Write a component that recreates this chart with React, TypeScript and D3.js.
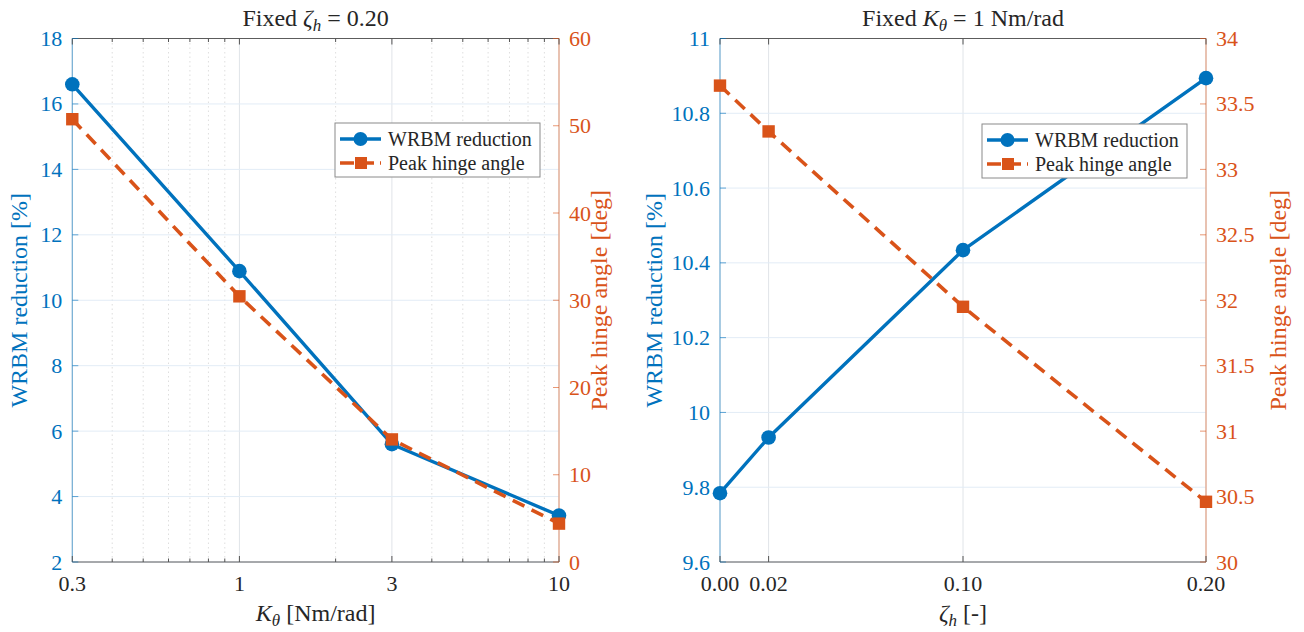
import React from "react";
import * as d3 from "d3";

const kTheta = [0.3, 1, 3, 10];
const wrbmLeft = [16.6, 10.89, 5.6, 3.42];
const hingeLeft = [50.75, 30.45, 14.05, 4.4];

const zetaH = [0, 0.02, 0.1, 0.2];
const wrbmRight = [9.784, 9.933, 10.434, 10.894];
const hingeRight = [33.64, 33.29, 31.95, 30.46];

const leftXTicks = [0.3, 1, 3, 10];
const leftXTickLabels = ["0.3", "1", "3", "10"];
const leftXMinor = [0.4, 0.5, 0.6, 0.7, 0.8, 0.9, 2, 4, 5, 6, 7, 8, 9];
const leftYTicks = [2, 4, 6, 8, 10, 12, 14, 16, 18];
const leftY2Ticks = [0, 10, 20, 30, 40, 50, 60];

const rightXTicks = [0, 0.02, 0.1, 0.2];
const rightXTickLabels = ["0.00", "0.02", "0.10", "0.20"];
const rightYTicks = [9.6, 9.8, 10, 10.2, 10.4, 10.6, 10.8, 11];
const rightYTickLabels = ["9.6", "9.8", "10", "10.2", "10.4", "10.6", "10.8", "11"];
const rightY2Ticks = [30, 30.5, 31, 31.5, 32, 32.5, 33, 33.5, 34];

const BLUE = "#0072BD";
const ORANGE = "#D95319";
const FONT = "Liberation Serif, Times New Roman, DejaVu Serif, serif";

type PanelProps = {
  x0: number;
  x1: number;
  xScale: any;
  xTicks: number[];
  xTickLabels: string[];
  xMinor: number[];
  yDomain: [number, number];
  y2Domain: [number, number];
  yTicks: number[];
  yTickLabels: string[];
  y2Ticks: number[];
  xs: number[];
  ys: number[];
  y2s: number[];
  title: React.ReactNode;
  xLabel: React.ReactNode;
  legendX: number;
  legendY: number;
  yLabelX: number;
  y2LabelX: number;
};

const TOP = 38.5;
const BOTTOM = 562;

function Panel(p: PanelProps) {
  const y = d3.scaleLinear().domain(p.yDomain).range([BOTTOM, TOP]);
  const y2 = d3.scaleLinear().domain(p.y2Domain).range([BOTTOM, TOP]);
  const x = p.xScale;
  const line1 = d3.line<number>().x((_, i) => x(p.xs[i])).y((v) => y(v));
  const line2 = d3.line<number>().x((_, i) => x(p.xs[i])).y((v) => y2(v));
  const cx = (p.x0 + p.x1) / 2;
  const tl = 6;
  const FS = 22;
  return (
    <g style={{ fontFamily: FONT }}>
      {p.xMinor.map((t) => (
        <line key={"mg" + t} x1={x(t)} x2={x(t)} y1={TOP} y2={BOTTOM} stroke="#d6d6d6" strokeWidth={0.8} strokeDasharray="1.5,3" />
      ))}
      {p.xTicks.map((t) => (
        <line key={"g" + t} x1={x(t)} x2={x(t)} y1={TOP} y2={BOTTOM} stroke="#e0e4e8" strokeWidth={1} />
      ))}
      {p.yTicks.map((t) => (
        <line key={"gy" + t} x1={p.x0} x2={p.x1} y1={y(t)} y2={y(t)} stroke="#e2ecf6" strokeWidth={1} />
      ))}
      <line x1={p.x0} x2={p.x1} y1={BOTTOM} y2={BOTTOM} stroke="#5c5c5c" strokeWidth={1} />
      <line x1={p.x0} x2={p.x1} y1={TOP} y2={TOP} stroke="#5c5c5c" strokeWidth={1} />
      <line x1={p.x0} x2={p.x0} y1={TOP} y2={BOTTOM} stroke={BLUE} strokeOpacity={0.5} strokeWidth={1.2} />
      <line x1={p.x1} x2={p.x1} y1={TOP} y2={BOTTOM} stroke={ORANGE} strokeOpacity={0.5} strokeWidth={1.2} />
      {p.xTicks.map((t, i) => (
        <g key={"xt" + t}>
          <line x1={x(t)} x2={x(t)} y1={BOTTOM} y2={BOTTOM - tl} stroke="#555" />
          <line x1={x(t)} x2={x(t)} y1={TOP} y2={TOP + tl} stroke="#555" />
          <text x={x(t)} y={BOTTOM + 28.5} fontSize={FS} textAnchor="middle" fill="#262626">
            {p.xTickLabels[i]}
          </text>
        </g>
      ))}
      {p.xMinor.map((t) => (
        <g key={"xm" + t}>
          <line x1={x(t)} x2={x(t)} y1={BOTTOM} y2={BOTTOM - 3.5} stroke="#555" />
          <line x1={x(t)} x2={x(t)} y1={TOP} y2={TOP + 3.5} stroke="#555" />
        </g>
      ))}
      {p.yTicks.map((t, i) => (
        <g key={"yt" + t}>
          <line x1={p.x0} x2={p.x0 + tl} y1={y(t)} y2={y(t)} stroke={BLUE} strokeOpacity={0.6} />
          <text x={p.x0 - 10} y={y(t) + 7.5} fontSize={FS} textAnchor="end" fill={BLUE}>
            {p.yTickLabels[i]}
          </text>
        </g>
      ))}
      {p.y2Ticks.map((t) => (
        <g key={"y2t" + t}>
          <line x1={p.x1} x2={p.x1 - tl} y1={y2(t)} y2={y2(t)} stroke={ORANGE} strokeOpacity={0.6} />
          <text x={p.x1 + 10} y={y2(t) + 7.5} fontSize={FS} textAnchor="start" fill={ORANGE}>
            {String(t)}
          </text>
        </g>
      ))}
      <path d={line1(p.ys) || ""} fill="none" stroke={BLUE} strokeWidth={3.4} strokeLinejoin="round" />
      {p.ys.map((v, i) => (
        <circle key={"c" + i} cx={x(p.xs[i])} cy={y(v)} r={7.3} fill={BLUE} />
      ))}
      <path d={line2(p.y2s) || ""} fill="none" stroke={ORANGE} strokeWidth={3.6} strokeDasharray="13,8" />
      {p.y2s.map((v, i) => (
        <rect key={"s" + i} x={x(p.xs[i]) - 6.2} y={y2(v) - 6.2} width={12.4} height={12.4} fill={ORANGE} />
      ))}
      <text x={cx} y={26} fontSize={24} textAnchor="middle" fill="#262626">{p.title}</text>
      <text x={cx} y={621} fontSize={24} textAnchor="middle" fill="#262626">{p.xLabel}</text>
      <text transform={`translate(${p.yLabelX},${(TOP + BOTTOM) / 2}) rotate(-90)`} fontSize={24} textAnchor="middle" fill={BLUE}>
        WRBM reduction [%]
      </text>
      <text transform={`translate(${p.y2LabelX},${(TOP + BOTTOM) / 2}) rotate(-90)`} fontSize={24} textAnchor="middle" fill={ORANGE}>
        Peak hinge angle [deg]
      </text>
      <g transform={`translate(${p.legendX},${p.legendY})`}>
        <rect x={0} y={0} width={205} height={54} fill="#fff" stroke="#8a8a8a" strokeWidth={1} />
        <line x1={5} x2={46} y1={16} y2={16} stroke={BLUE} strokeWidth={3.4} />
        <circle cx={25.5} cy={16} r={7} fill={BLUE} />
        <text x={53} y={22.5} fontSize={20} fill="#262626">WRBM reduction</text>
        <line x1={5} x2={46} y1={40} y2={40} stroke={ORANGE} strokeWidth={3.6} strokeDasharray="14,6" />
        <rect x={20} y={34} width={12} height={12} fill={ORANGE} />
        <text x={53} y={47} fontSize={20} fill="#262626">Peak hinge angle</text>
      </g>
    </g>
  );
}

export default function App() {
  const xl = d3.scaleLog().domain([0.3, 10]).range([72.3, 559]);
  const xr = d3.scaleLinear().domain([0, 0.2]).range([720, 1206]);
  return (
    <svg width={1304} height={632} style={{ position: "absolute", left: 0, top: 0, background: "#fff" }}>
      <rect width={1304} height={632} fill="#fff" />
      <Panel
        x0={72.3}
        x1={559}
        xScale={xl}
        xTicks={leftXTicks}
        xTickLabels={leftXTickLabels}
        xMinor={leftXMinor}
        yDomain={[2, 18]}
        y2Domain={[0, 60]}
        yTicks={leftYTicks}
        yTickLabels={leftYTicks.map(String)}
        y2Ticks={leftY2Ticks}
        xs={kTheta}
        ys={wrbmLeft}
        y2s={hingeLeft}
        title={
          <>
            Fixed <tspan fontStyle="italic">ζ</tspan>
            <tspan fontStyle="italic" fontSize={17} dy={5}>h</tspan>
            <tspan dy={-5}> = 0.20</tspan>
          </>
        }
        xLabel={
          <>
            <tspan fontStyle="italic">K</tspan>
            <tspan fontStyle="italic" fontSize={17} dy={5}>θ</tspan>
            <tspan dy={-5}> [Nm/rad]</tspan>
          </>
        }
        legendX={335}
        legendY={123}
        yLabelX={27}
        y2LabelX={607}
      />
      <Panel
        x0={720}
        x1={1206}
        xScale={xr}
        xTicks={rightXTicks}
        xTickLabels={rightXTickLabels}
        xMinor={[]}
        yDomain={[9.6, 11]}
        y2Domain={[30, 34]}
        yTicks={rightYTicks}
        yTickLabels={rightYTickLabels}
        y2Ticks={rightY2Ticks}
        xs={zetaH}
        ys={wrbmRight}
        y2s={hingeRight}
        title={
          <>
            Fixed <tspan fontStyle="italic">K</tspan>
            <tspan fontStyle="italic" fontSize={17} dy={5}>θ</tspan>
            <tspan dy={-5}> = 1 Nm/rad</tspan>
          </>
        }
        xLabel={
          <>
            <tspan fontStyle="italic">ζ</tspan>
            <tspan fontStyle="italic" fontSize={17} dy={5}>h</tspan>
            <tspan dy={-5}> [-]</tspan>
          </>
        }
        legendX={982}
        legendY={124}
        yLabelX={662}
        y2LabelX={1286}
      />
    </svg>
  );
}
